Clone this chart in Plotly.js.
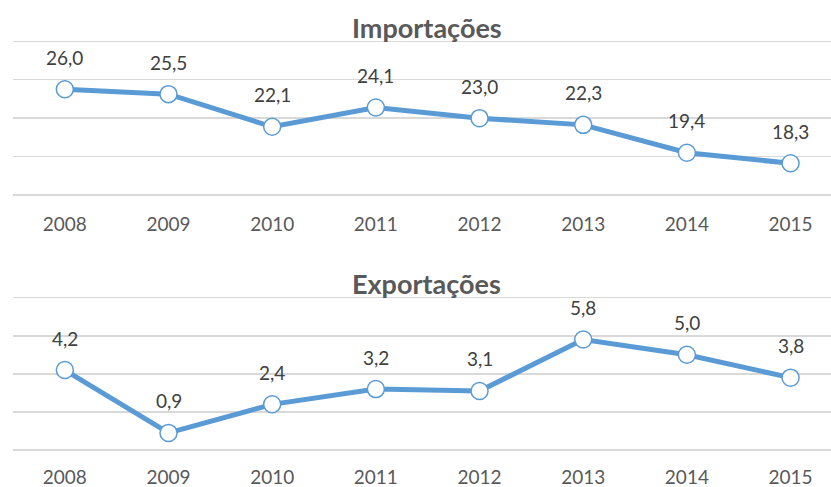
<!DOCTYPE html>
<html>
<head>
<meta charset="utf-8">
<script src="https://cdn.plot.ly/plotly-3.0.1.min.js"></script>
<style>html,body{margin:0;padding:0;background:#fff;}#chart{width:831px;height:487px;}</style>
</head>
<body>
<div id="chart"></div>
<script>
const years = ["2008","2009","2010","2011","2012","2013","2014","2015"];
const importacoes = [26.0, 25.5, 22.1, 24.1, 23.0, 22.3, 19.4, 18.3];
const exportacoes = [4.2, 0.9, 2.4, 3.2, 3.1, 5.8, 5.0, 3.8];
const titleImp = "Importações";
const titleExp = "Exportações";

const blue = "#5B9BD5";
const font = "Lato, 'Open Sans', sans-serif";
const fmt = v => v.toFixed(1).replace(".", ",");

function trace(y, xa, ya) {
  return {
    x: years, y: y, xaxis: xa, yaxis: ya, type: "scatter", mode: "lines+markers",
    line: {color: blue, width: 5},
    marker: {size: 17, color: "#ffffff", line: {color: blue, width: 1.5}},
    hoverinfo: "skip", cliponaxis: false
  };
}

const annotations = [];
function labels(y, xref, yref) {
  y.forEach((v, i) => annotations.push({
    x: i, y: v, xref: xref, yref: yref, text: fmt(v), showarrow: false,
    xanchor: "center", yanchor: "middle",
    yshift: 32, font: {family: font, size: 19, color: "#404040"}
  }));
}
labels(importacoes, "x", "y");
labels(exportacoes, "x2", "y2");
annotations.push({x: 0.506, y: 1 - 28/487, xref: "paper", yref: "paper", text: "<b>" + titleImp + "</b>",
  showarrow: false, font: {family: font, size: 27, color: "#595959"}, xanchor: "center", yanchor: "middle"});
annotations.push({x: 0.506, y: 1 - 283/487, xref: "paper", yref: "paper", text: "<b>" + titleExp + "</b>",
  showarrow: false, font: {family: font, size: 27, color: "#595959"}, xanchor: "center", yanchor: "middle"});

const xbase = {
  type: "category", range: [-0.5, 7.39], showgrid: false, zeroline: false, showline: false,
  ticks: "outside", ticklen: 7, tickcolor: "rgba(0,0,0,0)",
  tickfont: {family: font, size: 19, color: "#595959"}, fixedrange: true
};
const ybase = {
  showticklabels: false, showgrid: true, gridcolor: "#D9D9D9", gridwidth: 1.5,
  zeroline: false, showline: false, ticks: "", fixedrange: true
};

const layout = {
  width: 831, height: 487,
  margin: {l: 13, r: 0, t: 0, b: 0},
  paper_bgcolor: "#ffffff", plot_bgcolor: "#ffffff",
  showlegend: false,
  xaxis: Object.assign({}, xbase, {domain: [0, 1], anchor: "y"}),
  yaxis: Object.assign({}, ybase, {domain: [1 - 199.8/487, 1 - 36.5/487], range: [14.5, 31.5], tick0: 15, dtick: 4, anchor: "x"}),
  xaxis2: Object.assign({}, xbase, {domain: [0, 1], anchor: "y2", ticklen: 5}),
  yaxis2: Object.assign({}, ybase, {domain: [1 - 454.8/487, 1 - 292.9/487], range: [-0.25, 8.25], tick0: 0, dtick: 2, anchor: "x2"}),
  annotations: annotations
};

Plotly.newPlot("chart", [trace(importacoes, "x", "y"), trace(exportacoes, "x2", "y2")], layout, {displayModeBar: false, staticPlot: true});
</script>
</body>
</html>
